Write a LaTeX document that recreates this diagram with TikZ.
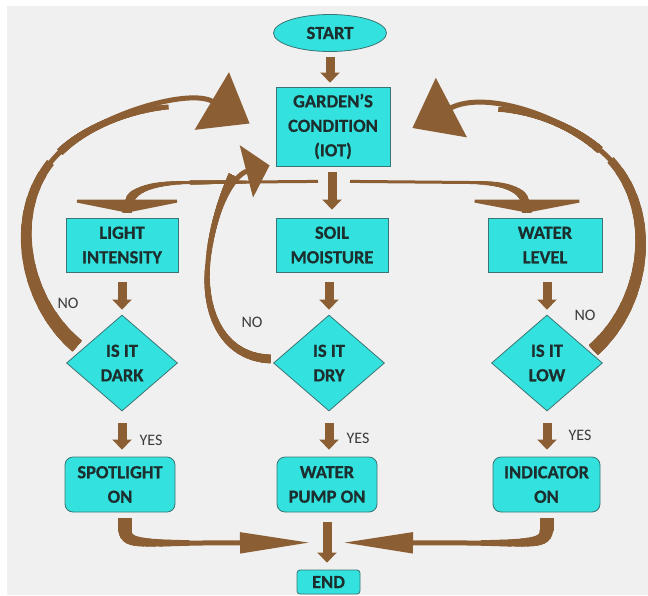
\documentclass[tikz,border=0pt]{standalone}
\usepackage{fontspec}
\setmainfont{Carlito}
\newfontfamily\heavyfont{Carlito Bold}[FakeBold=0.6]
\usetikzlibrary{arrows.meta,shapes.geometric,calc}
\definecolor{bgc}{HTML}{F0F0F0}
\definecolor{cyanf}{HTML}{33E2DE}
\definecolor{edgec}{HTML}{3A7474}
\definecolor{brn}{HTML}{8B5E34}
\definecolor{txt}{HTML}{1C2E2E}
\definecolor{lblc}{HTML}{3A3A3A}
% tapered stroke along a Bezier: width #1 at t=0 down to #2 at t=#3
\newcommand\taperseg[7]{%
  \foreach \kk in {1,...,16}{%
    \pgfmathsetmacro\tpar{#3*\kk/16}%
    \pgfmathsetmacro\wpar{#1+(#2-#1)*\kk/16}%
    \begin{pgfscope}%
      \pgfsetstrokecolor{brn}%
      \pgfsetlinewidth{\wpar pt}%
      \pgfpathcurvebetweentime{0}{\tpar}{#4}{#5}{#6}{#7}%
      \pgfusepath{stroke}%
    \end{pgfscope}%
  }}
\begin{document}
\begin{tikzpicture}[x=1pt,y=-1pt,
  base/.style={fill=cyanf,draw=edgec,line width=0.8pt,text=txt,
    font=\heavyfont\fontsize{18.5}{24.5}\selectfont,align=center,inner sep=0pt},
  procbox/.style={base,rectangle},
  roundbox/.style={base,rectangle,rounded corners=8pt},
  decision/.style={base,diamond,aspect=1.15,minimum width=111pt,minimum height=96pt},
  lbl/.style={text=lblc,font=\fontsize{16}{16}\selectfont,inner sep=0pt},
  stub/.style={draw=brn,line width=9pt,-{Triangle[width=19pt,length=10pt]}},
  brnline/.style={draw=brn,line cap=butt},
  bighead/.style={-{Triangle[width=66pt,length=44pt]}},
]
\useasboundingbox (0,0) rectangle (648,595);
\fill[white] (0,0) rectangle (648,595);
\fill[bgc] (7,6) rectangle (648,595);

% nodes
\node[base,ellipse,minimum width=113pt,minimum height=37pt] (start) at (330,33) {START};
\node[procbox,minimum width=114pt,minimum height=79pt] (garden) at (333,126.5) {GARDEN’S\\CONDITION\\(IOT)};
\node[procbox,minimum width=112pt,minimum height=54pt] (light) at (122,245) {LIGHT\\INTENSITY};
\node[procbox,minimum width=112pt,minimum height=54pt] (soil) at (332,245) {SOIL\\MOISTURE};
\node[procbox,minimum width=114pt,minimum height=54pt] (water) at (545,245) {WATER\\LEVEL};
\node[decision] (dark) at (122,363) {IS IT\\DARK};
\node[decision] (dry) at (329,363) {IS IT\\DRY};
\node[decision] (low) at (547,363) {IS IT\\LOW};
\node[roundbox,minimum width=110pt,minimum height=55pt] (spot) at (120,484.5) {SPOTLIGHT\\ON};
\node[roundbox,minimum width=100pt,minimum height=55pt] (pump) at (327,484.5) {WATER\\PUMP ON};
\node[roundbox,minimum width=107pt,minimum height=55pt] (indic) at (546.5,484.5) {INDICATOR\\ON};
\node[roundbox,rounded corners=3pt,minimum width=63pt,minimum height=24pt] (end) at (328.5,582) {END};

% labels
\node[lbl] (no1) at (68,303) {NO};
\node[lbl] (no2) at (252,322) {NO};
\node[lbl] (no3) at (585,315) {NO};
\node[lbl] (yes1) at (151,440) {YES};
\node[lbl] (yes2) at (358,438) {YES};
\node[lbl] (yes3) at (580,435) {YES};

% straight stubs
\draw[stub,shorten <=5pt,shorten >=4pt] (start) -- (start |- garden.north);
\draw[stub,shorten <=6pt,shorten >=8pt] (soil.north |- garden.south) -- (soil.north);
\draw[stub,shorten <=10pt,shorten >=5pt] (light.south) -- (dark.north);
\draw[stub,shorten <=10pt,shorten >=5pt] (dry.north |- soil.south) -- (dry.north);
\draw[stub,shorten <=10pt,shorten >=5pt] (low.north |- water.south) -- (low.north);
\draw[stub,shorten <=12pt,shorten >=7pt] (dark.south) -- (dark.south |- spot.north);
\draw[stub,shorten <=12pt,shorten >=7pt] (dry.south) -- (dry.south |- pump.north);
\draw[stub,shorten <=12pt,shorten >=7pt] (low.south) -- (low.south |- indic.north);
\draw[stub,shorten <=10pt,shorten >=7pt] (pump.south) -- (pump.south |- end.north);

% branch arrows from garden
\coordinate (bL) at ([shift={(-15,15)}]garden.south);
\coordinate (tipBL) at ([shift={(5,-5)}]light.north);
\coordinate (bR) at ([shift={(17,15)}]garden.south);
\coordinate (tipBR) at ([shift={(-18,-5)}]water.north);
\draw[brnline,line width=3pt,-{Triangle[width=130pt,length=13pt]}]
  (bL) -- (190,182.5) .. controls (148,183) and (127,190) .. (tipBL);
\taperseg{10}{3}{1}{\pgfpointanchor{tipBL}{center}}{\pgfpointxy{127}{190}}{\pgfpointxy{148}{183}}{\pgfpointxy{190}{182.5}}
\taperseg{3.5}{3}{1}{\pgfpointxy{190}{182.5}}{\pgfpointxy{210}{182.4}}{\pgfpointxy{230}{182.2}}{\pgfpointxy{250}{182}}
\draw[brnline,line width=3pt,-{Triangle[width=136pt,length=13pt]}]
  (bR) -- (470,182.5) .. controls (510,183) and (527,190) .. (tipBR);
\taperseg{10}{3}{1}{\pgfpointanchor{tipBR}{center}}{\pgfpointxy{527}{190}}{\pgfpointxy{510}{183}}{\pgfpointxy{470}{182.5}}

% big NO loop: dark -> garden
\coordinate (tL) at ([shift={(11,-17)}]dark.west);
\coordinate (tipL) at ([shift={(-26,-3)}]garden.west);
\draw[brnline,line width=5pt,bighead] (tL) .. controls (22,300) and (5,205) .. (60,152)
  .. controls (100,113) and (190,88) .. (tipL);
\taperseg{15}{8}{1}{\pgfpointanchor{tL}{center}}{\pgfpointxy{22}{300}}{\pgfpointxy{5}{205}}{\pgfpointxy{60}{152}}
\taperseg{8}{5}{0.6}{\pgfpointxy{60}{152}}{\pgfpointxy{100}{113}}{\pgfpointxy{190}{88}}{\pgfpointanchor{tipL}{center}}

% big NO loop: low -> garden
\coordinate (tR) at ([shift={(-9.5,-13)}]low.east);
\coordinate (tipR) at ([shift={(22,1.5)}]garden.east);
\draw[brnline,line width=5pt,bighead] (tR) .. controls (650,300) and (660,200) .. (600,150)
  .. controls (560,115) and (485,90) .. (tipR);
\taperseg{14}{8}{1}{\pgfpointanchor{tR}{center}}{\pgfpointxy{650}{300}}{\pgfpointxy{660}{200}}{\pgfpointxy{600}{150}}
\taperseg{8}{5}{0.6}{\pgfpointxy{600}{150}}{\pgfpointxy{560}{115}}{\pgfpointxy{485}{90}}{\pgfpointanchor{tipR}{center}}

% NO loop: dry -> garden
\coordinate (tM) at ([shift={(-2.5,-4)}]dry.west);
\coordinate (tipM) at ([shift={(-6,-1)}]garden.south west);
\draw[brnline,line width=5pt,-{Triangle[width=53pt,length=24pt]}] (tM) .. controls (218,357) and (203,305) .. (208,262)
  .. controls (212,215) and (232,175) .. (tipM);
\taperseg{9}{5}{1}{\pgfpointanchor{tM}{center}}{\pgfpointxy{218}{357}}{\pgfpointxy{203}{305}}{\pgfpointxy{208}{262}}
\taperseg{7.5}{5}{1}{\pgfpointxy{232}{175}}{\pgfpointxy{232}{175}}{\pgfpointxy{212}{215}}{\pgfpointxy{208}{262}}

% bottom arrows to END
\coordinate (sL) at ([shift={(5,6)}]spot.south);
\coordinate (tipEL) at ([shift={(-18.5,-27)}]end.north);
\coordinate (sR) at ([shift={(0,6)}]indic.south);
\coordinate (tipER) at ([shift={(14.5,-27)}]end.north);
\draw[brnline,line width=5pt,-{Triangle[width=20pt,length=70pt]}]
  (sL) -- (125,530) .. controls (125,544) and (140,543) .. (200,543) -- (tipEL);
\draw[brnline,line width=14pt] (sL) -- (125,531);
\taperseg{14}{5}{1}{\pgfpointxy{125}{530}}{\pgfpointxy{125}{544}}{\pgfpointxy{140}{543}}{\pgfpointxy{200}{543}}
\draw[brnline,line width=5pt,-{Triangle[width=20pt,length=70pt]}]
  (sR) -- (546.5,530) .. controls (546.5,544) and (531,543) .. (470,543) -- (tipER);
\draw[brnline,line width=14pt] (sR) -- (546.5,531);
\taperseg{14}{5}{1}{\pgfpointxy{546.5}{530}}{\pgfpointxy{546.5}{544}}{\pgfpointxy{531}{543}}{\pgfpointxy{470}{543}}
\end{tikzpicture}
\end{document}
